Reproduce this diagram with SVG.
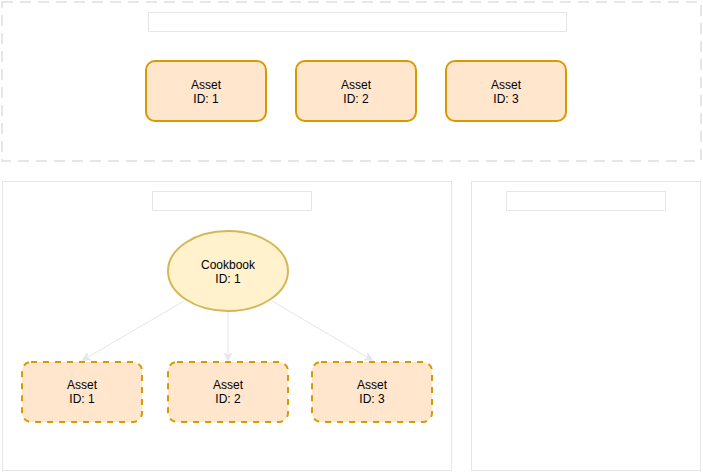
<svg xmlns="http://www.w3.org/2000/svg" width="703" height="472" viewBox="0 0 703 472">
<style>
.cont{fill:#ffffff;stroke:#e6e6e6;stroke-width:1}
.lbl{fill:#ffffff;stroke:#e6e6e6;stroke-width:1}
.asset{fill:#ffe6cc;stroke:#d79b00;stroke-width:2}
.dash{stroke-dasharray:6 6}
.t{font-family:"Liberation Sans",Arial,sans-serif;font-size:12px;fill:#000000;text-anchor:middle}
.edge{stroke:#e6e6e6;stroke-width:1;fill:none}
</style>
<defs>
<marker id="arr" viewBox="0 0 10 10" refX="9" refY="5" markerWidth="8" markerHeight="8" orient="auto" markerUnits="userSpaceOnUse">
<path d="M0,0 L10,5 L0,10 L3,5 Z" fill="#e6e6e6" stroke="#e6e6e6"/>
</marker>
</defs>
<rect width="703" height="472" fill="#ffffff"/>
<g id="top-container">
<rect x="2" y="2" width="699" height="159" fill="#ffffff" stroke="#e6e6e6" stroke-width="2" stroke-dasharray="11 7"/>
<rect class="lbl" x="148.5" y="12.5" width="418" height="19"/>
</g>
<g id="top-asset-1">
<rect class="asset" x="146" y="61" width="120" height="60" rx="9"/>
<text class="t" x="206" y="89">Asset</text><text class="t" x="206" y="103">ID: 1</text>
</g>
<g id="top-asset-2">
<rect class="asset" x="296" y="61" width="120" height="60" rx="9"/>
<text class="t" x="356" y="89">Asset</text><text class="t" x="356" y="103">ID: 2</text>
</g>
<g id="top-asset-3">
<rect class="asset" x="446" y="61" width="120" height="60" rx="9"/>
<text class="t" x="506" y="89">Asset</text><text class="t" x="506" y="103">ID: 3</text>
</g>
<g id="left-container">
<rect class="cont" x="2.5" y="181.5" width="449" height="289"/>
<rect class="lbl" x="152.5" y="191.5" width="159" height="19"/>
</g>
<g id="right-container">
<rect class="cont" x="471.5" y="181.5" width="229" height="289"/>
<rect class="lbl" x="506.5" y="191.5" width="159" height="19"/>
</g>
<g id="connectors">
<line class="edge" x1="184" y1="301" x2="83" y2="360" marker-end="url(#arr)"/>
<line class="edge" x1="228" y1="311" x2="228" y2="360" marker-end="url(#arr)"/>
<line class="edge" x1="272" y1="301" x2="372" y2="360" marker-end="url(#arr)"/>
</g>
<g id="cookbook">
<ellipse cx="228" cy="271" rx="60" ry="40" fill="#fff2cc" stroke="#d6b656" stroke-width="2"/>
<text class="t" x="228" y="269">Cookbook</text><text class="t" x="228" y="283">ID: 1</text>
</g>
<g id="asset-1">
<rect class="asset dash" x="22" y="362" width="120" height="60" rx="9"/>
<text class="t" x="82" y="389">Asset</text><text class="t" x="82" y="403">ID: 1</text>
</g>
<g id="asset-2">
<rect class="asset dash" x="168" y="362" width="120" height="60" rx="9"/>
<text class="t" x="228" y="389">Asset</text><text class="t" x="228" y="403">ID: 2</text>
</g>
<g id="asset-3">
<rect class="asset dash" x="312" y="362" width="120" height="60" rx="9"/>
<text class="t" x="372" y="389">Asset</text><text class="t" x="372" y="403">ID: 3</text>
</g>
</svg>
